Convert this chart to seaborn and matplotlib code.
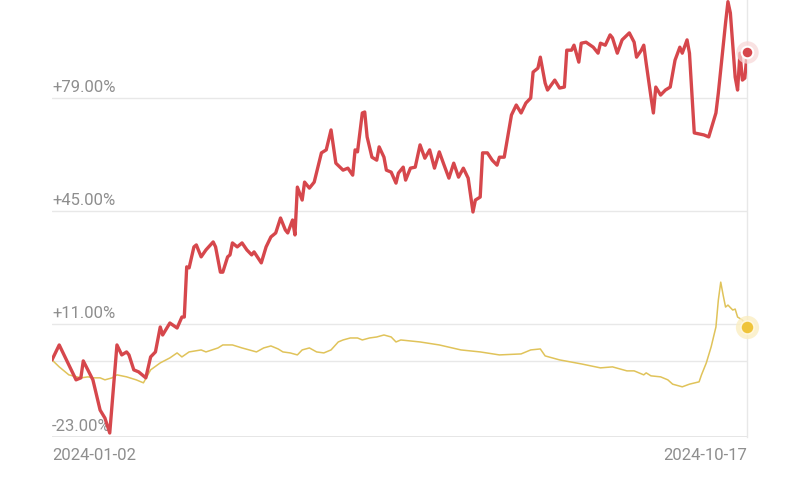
import pandas as pd
import seaborn as sns
import matplotlib.pyplot as plt
import matplotlib.transforms as mtransforms

# Cumulative return (%); x is days since 2024-01-02
red_days = [0, 3, 10, 12, 13, 17, 20, 22, 24, 27, 29, 31, 32, 34, 36, 39, 41, 43, 45, 46,
            49, 52, 54, 55, 56, 57, 59, 60, 62, 64, 67, 68, 70, 71, 73, 74, 75, 77, 79, 81,
            83, 84, 87, 89, 91, 93, 95, 97, 98, 100, 101, 102, 104, 105, 107, 109, 112, 114, 116, 118,
            121, 123, 125, 126, 127, 129, 130, 131, 133, 135, 136, 138, 139, 141, 143, 144, 146, 147, 149, 151,
            153, 155, 157, 159, 161, 163, 165, 167, 169, 171, 173, 175, 176, 178, 179, 181, 183, 185, 186, 188,
            191, 193, 195, 197, 199, 200, 202, 203, 205, 206, 209, 211, 213, 214, 216, 217, 219, 220, 222, 225,
            227, 228, 230, 232, 233, 235, 237, 240, 242, 243, 245, 246, 247, 249, 250, 251, 253, 255, 257, 259,
            261, 262, 264, 265, 267, 271, 273, 276, 277, 280, 281, 282, 284, 285, 286, 287, 288, 289]
red_values = [0.2, 4.7, -5.8, -5.2, -0.1, -5.8, -14.9, -17.3, -21.8, 4.7, 1.7, 2.6, 1.7, -2.8, -3.4, -5.2, 1.1, 2.6, 10.1, 7.7,
              11.3, 9.8, 13.1, 13.1, 28.2, 27.9, 34.2, 34.8, 31.2, 33.3, 35.7, 34.2, 26.6, 26.6, 31.2, 31.8, 35.4, 34.2, 35.4, 33.3,
              31.8, 32.7, 29.4, 34.2, 37.2, 38.4, 42.9, 39.3, 38.4, 42.3, 37.8, 52.2, 48.3, 53.7, 51.9, 53.7, 62.5, 63.4, 69.4, 59.4,
              57.3, 57.9, 55.8, 63.4, 62.8, 74.5, 74.8, 67.3, 61.2, 60.3, 64.3, 61.2, 57.3, 56.7, 53.4, 56.4, 58.2, 54.3, 57.9, 58.2,
              64.9, 60.9, 63.4, 57.9, 62.8, 58.8, 54.9, 59.4, 55.2, 57.9, 54.9, 44.7, 48.3, 49.2, 62.5, 62.5, 60.3, 58.8, 61.2, 61.2,
              73.9, 76.9, 74.5, 77.5, 79.0, 86.8, 88.0, 91.3, 83.5, 81.4, 84.4, 82.0, 82.3, 93.4, 93.4, 94.9, 89.8, 95.5, 95.8, 94.3,
              92.5, 95.5, 94.9, 98.0, 97.1, 92.5, 96.5, 98.6, 95.8, 91.3, 93.4, 94.9, 89.5, 79.3, 74.5, 82.3, 79.9, 81.4, 82.3, 90.4,
              94.3, 92.5, 96.5, 92.5, 68.5, 67.9, 67.3, 74.5, 80.5, 101.6, 108.0, 104.6, 85.3, 81.4, 92.5, 84.4, 85.0, 92.8]

yellow_days = [0, 3, 7, 12, 15, 17, 20, 22, 25, 27, 31, 35, 38, 41, 45, 49, 52, 54, 57, 62,
               64, 69, 71, 75, 79, 82, 85, 88, 91, 94, 96, 99, 102, 104, 107, 110, 113, 116, 119, 121,
               124, 127, 129, 132, 135, 138, 141, 143, 145, 153, 161, 170, 178, 186, 195, 199, 203, 205, 211, 220,
               228, 233, 239, 242, 246, 247, 249, 253, 256, 258, 262, 265, 269, 270, 272, 274, 276, 277, 278, 279,
               280, 281, 283, 284, 285, 287, 289]
yellow_values = [0.2, -1.9, -4.3, -5.2, -4.9, -5.2, -5.2, -5.8, -5.2, -4.3, -4.9, -5.8, -6.7, -2.8, -0.7, 0.8, 2.3, 1.1, 2.6, 3.2,
                 2.6, 3.8, 4.7, 4.7, 3.8, 3.2, 2.6, 3.8, 4.4, 3.5, 2.6, 2.3, 1.7, 3.2, 3.8, 2.6, 2.3, 3.2, 5.6, 6.2,
                 6.8, 6.8, 6.2, 6.8, 7.1, 7.7, 7.1, 5.6, 6.2, 5.6, 4.7, 3.2, 2.6, 1.7, 2.0, 3.2, 3.5, 1.4, 0.2, -1.0,
                 -2.2, -1.9, -3.1, -3.1, -4.3, -3.7, -4.6, -4.9, -5.8, -7.1, -7.9, -7.1, -6.4, -4.3, -0.7, 4.1, 10.1, 18.2, 23.6, 19.7,
                 16.1, 16.7, 15.2, 15.5, 13.1, 12.2, 10.1]

y_ticks = [79, 45, 11, -23]
y_tick_labels = ["+79.00%", "+45.00%", "+11.00%", "-23.00%"]
start_date = pd.Timestamp("2024-01-02")
end_label, start_label = "2024-10-17", "2024-01-02"

red_df = pd.DataFrame({"date": start_date + pd.to_timedelta(red_days, unit="D"), "ret": red_values})
yellow_df = pd.DataFrame({"date": start_date + pd.to_timedelta(yellow_days, unit="D"), "ret": yellow_values})

sns.set_style("white")
plt.rcParams["font.family"] = ["Roboto", "DejaVu Sans"]

red = "#d6474c"
yellow = "#e0c35a"
grid = "#e8e8e8"
label_col = "#8e8e8e"

fig = plt.figure(figsize=(8, 5), dpi=100)
ax = fig.add_axes([0.065, 0.126, 0.869, 0.874])

for y in y_ticks[:-1] + [0]:
    ax.axhline(y, color=grid, lw=1.0, zorder=0)
ax.axhline(-23, color="#e2e2e2", lw=1.2, zorder=0)

sns.lineplot(data=yellow_df, x="date", y="ret", ax=ax, color=yellow, lw=1.1, zorder=2)
sns.lineplot(data=red_df, x="date", y="ret", ax=ax, color=red, lw=2.4, zorder=3)

# end markers with soft halo
last_r = red_df.iloc[-1]
last_y = yellow_df.iloc[-1]
ax.scatter([last_r["date"]], [last_r["ret"]], s=260, color="#f7d6d6", alpha=0.7, zorder=4, lw=0, clip_on=False)
ax.scatter([last_r["date"]], [last_r["ret"]], s=70, color=red, edgecolor="white", lw=1.5, zorder=5, clip_on=False)
ax.scatter([last_y["date"]], [last_y["ret"]], s=280, color="#fbeec2", alpha=0.8, zorder=4, lw=0, clip_on=False)
ax.scatter([last_y["date"]], [last_y["ret"]], s=90, color="#efc43a", edgecolor="#fff6da", lw=1.2, zorder=5, clip_on=False)

ax.set_xlim(red_df["date"].iloc[0], red_df["date"].iloc[-1])
ax.set_ylim(-23, 108.5)

# y labels sit above their gridlines
trans = mtransforms.blended_transform_factory(ax.transAxes, ax.transData)
for y, lab in zip(y_ticks, y_tick_labels):
    ax.text(0.0, y + 1.0, lab, transform=trans, ha="left", va="bottom",
            fontsize=12, color=label_col, zorder=1)
ax.set_yticks([])

ax.set_xticks([red_df["date"].iloc[0], red_df["date"].iloc[-1]])
ax.set_xticklabels([start_label, end_label], fontsize=12, color=label_col)
xl = ax.get_xticklabels()
xl[0].set_ha("left")
xl[1].set_ha("right")
ax.tick_params(axis="x", length=0, pad=8)
ax.set_xlabel("")
ax.set_ylabel("")

for side in ["top", "left", "bottom"]:
    ax.spines[side].set_visible(False)
ax.spines["right"].set_color(grid)
ax.spines["right"].set_linewidth(1.0)

fig.savefig("out.png", dpi=100)
